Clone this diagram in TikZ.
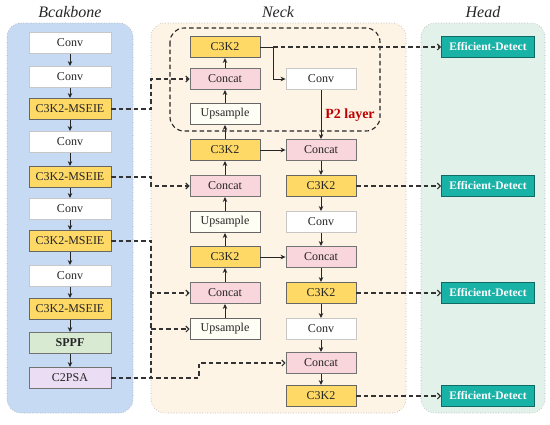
\documentclass[tikz,border=0pt]{standalone}
\usepackage{fontspec}
\setmainfont{Liberation Serif}
\usepackage{tikz}
\usetikzlibrary{arrows.meta,positioning,calc}
\definecolor{BoneBlue}{HTML}{C6DAF4}
\definecolor{NeckCream}{HTML}{FDF4E5}
\definecolor{HeadMint}{HTML}{E3F1EB}
\definecolor{CkYellow}{HTML}{FFD966}
\definecolor{CatPink}{HTML}{F9D6DB}
\definecolor{SppfGreen}{HTML}{D9EAD3}
\definecolor{PsaLilac}{HTML}{EBDDF3}
\definecolor{DetTeal}{HTML}{19B2A7}
\definecolor{P2Red}{HTML}{C00000}

\begin{document}
\begin{tikzpicture}[x=1pt, y=-1pt,
  blk/.style={draw, minimum height=21pt, inner sep=0pt, line width=0.9pt, text=black!85, font=\fontsize{12}{13}\selectfont},
  bbox/.style={blk, minimum width=82pt},
  nbox/.style={blk, minimum width=70pt},
  convbox/.style={fill=white, draw=black!22},
  ckbox/.style={fill=CkYellow, draw=black!60},
  catbox/.style={fill=CatPink, draw=black!55},
  upbox/.style={fill=white!96!yellow, draw=black!60},
  sppfbox/.style={fill=SppfGreen, draw=black!55},
  psabox/.style={fill=PsaLilac, draw=black!55},
  detbox/.style={blk, minimum width=93pt, fill=DetTeal, draw=DetTeal!60!black, text=white, font=\fontsize{11.5}{13}\selectfont\bfseries},
  panel/.style={rounded corners=14pt, draw=black!35, dotted, line width=0.6pt},
  title/.style={font=\fontsize{16}{18}\selectfont\itshape, text=black!85},
  flowarr/.style={-{Stealth[length=5pt,width=4.5pt]}, line width=1pt, black!85},
  skipline/.style={dash pattern=on 4.5pt off 3pt, line width=1.1pt, black!80},
  skiparr/.style={skipline, -{Straight Barb[length=3pt,width=6pt]}}
]
\useasboundingbox (0,0) rectangle (550,424);

% Panels and titles
\draw[panel, fill=BoneBlue] (7,23) rectangle (133,413);
\draw[panel, fill=NeckCream] (151,23) rectangle (406,413);
\draw[panel, fill=HeadMint] (421,23) rectangle (545,413);
\node[title] (ttlBone) at (70,12) {Bcakbone};
\node[title] (ttlNeck) at (278,12) {Neck};
\node[title] (ttlHead) at (483,12) {Head};

% P2 layer frame
\draw[dash pattern=on 4.5pt off 3pt, line width=1.1pt, black!85, rounded corners=14pt] (170,28) rectangle (380,131);
\node[font=\fontsize{14}{16}\selectfont\bfseries, text=P2Red] (p2lbl) at (350,115) {P2 layer};

% Backbone blocks
\foreach \nm/\y/\st/\txt in {
  conv1/43/convbox/Conv,
  conv2/77/convbox/Conv,
  msA/109/ckbox/C3K2-MSEIE,
  conv3/142/convbox/Conv,
  msB/177/ckbox/C3K2-MSEIE,
  conv4/209/convbox/Conv,
  msC/241/ckbox/C3K2-MSEIE,
  conv5/276/convbox/Conv,
  msD/309/ckbox/C3K2-MSEIE,
  sppf/343/sppfbox/\textbf{SPPF},
  c2psa/378/psabox/C2PSA}
{
  \node[bbox, \st] (\nm) at (70,\y) {\txt};
}

% Neck blocks, left column (upward path)
\foreach \nm/\y/\st/\txt in {
  nkC3a/47/ckbox/C3K2,
  nkCatA/79/catbox/Concat,
  nkUpA/114/upbox/Upsample,
  nkC3b/150/ckbox/C3K2,
  nkCatB/186/catbox/Concat,
  nkUpB/222/upbox/Upsample,
  nkC3c/257/ckbox/C3K2,
  nkCatC/293/catbox/Concat,
  nkUpC/329/upbox/Upsample}
{
  \node[nbox, \st] (\nm) at (225,\y) {\txt};
}

% Neck blocks, right column (downward path)
\foreach \nm/\y/\st/\txt in {
  nkConvA/79/convbox/Conv,
  nkCatD/150/catbox/Concat,
  nkC3d/186/ckbox/C3K2,
  nkConvB/222/convbox/Conv,
  nkCatE/257/catbox/Concat,
  nkC3e/293/ckbox/C3K2,
  nkConvC/329/convbox/Conv,
  nkCatF/363/catbox/Concat,
  nkC3f/396/ckbox/C3K2}
{
  \node[nbox, \st] (\nm) at (321,\y) {\txt};
}

% Head blocks
\foreach \nm/\y in {det1/47, det2/186, det3/293, det4/396}
  \node[detbox] (\nm) at (488,\y) {Efficient-Detect};

% Solid arrows
\foreach \a/\b in {conv1/conv2, conv2/msA, msA/conv3, conv3/msB, msB/conv4,
  conv4/msC, msC/conv5, conv5/msD, msD/sppf, sppf/c2psa,
  nkConvA/nkCatD, nkCatD/nkC3d, nkC3d/nkConvB, nkConvB/nkCatE,
  nkCatE/nkC3e, nkC3e/nkConvC, nkConvC/nkCatF, nkCatF/nkC3f}
  \draw[flowarr] (\a.south) -- (\b.north);
\foreach \a/\b in {nkUpC/nkCatC, nkCatC/nkC3c, nkC3c/nkUpB, nkUpB/nkCatB,
  nkCatB/nkC3b, nkC3b/nkUpA, nkUpA/nkCatA, nkCatA/nkC3a}
  \draw[flowarr] (\a.north) -- (\b.south);
\draw[flowarr] (nkC3b.east) -- (nkCatD.west);
\draw[flowarr] (nkC3c.east) -- (nkCatE.west);
\coordinate (jTop) at (273,47);
\draw[flowarr] (nkC3a.east) -- (jTop) |- (nkConvA.west);

% Dashed skip links
\coordinate (jA) at (151,79);
\coordinate (jB) at (151,186);
\coordinate (jC) at (151,293);
\coordinate (jU) at (151,329);
\coordinate (jF) at (199,363);
\draw[skiparr] (msA.east) -| (jA) -- (nkCatA.west);
\draw[skiparr] (msB.east) -| (jB) -- (nkCatB.west);
\draw[skiparr] (msC.east) -| (jC) -- (nkCatC.west);
\draw[skipline] (c2psa.east) -| (jC);
\draw[skiparr] (jU) -- (nkUpC.west);
\draw[skiparr] (c2psa.east) -| (jF) -- (nkCatF.west);
\draw[skiparr] (jTop) -- (det1.west);
\draw[skiparr] (nkC3d.east) -- (det2.west);
\draw[skiparr] (nkC3e.east) -- (det3.west);
\draw[skiparr] (nkC3f.east) -- (det4.west);
\end{tikzpicture}
\end{document}
